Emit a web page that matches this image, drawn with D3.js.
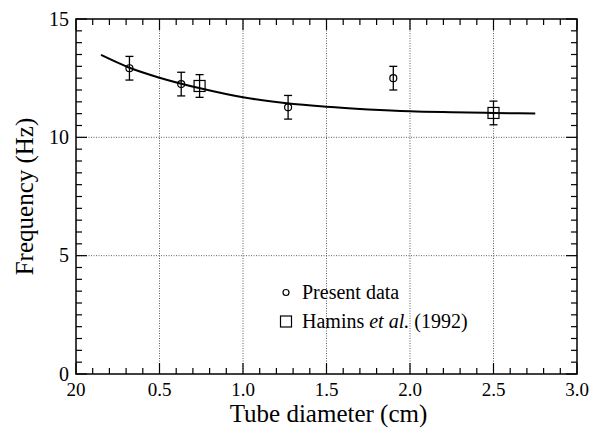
<!DOCTYPE html>
<html>
<head>
<meta charset="utf-8">
<script src="https://cdn.jsdelivr.net/npm/d3@7"></script>
<style>
  body { margin: 0; background: #fff; }
  svg { font-family: "Liberation Serif", "Times New Roman", serif; }
</style>
</head>
<body>
<div id="chart"></div>
<script>
// data
const presentDiam = [0.32, 0.63, 1.27, 1.9];
const presentFreq = [12.92, 12.25, 11.27, 12.5];
const presentErr = [0.5, 0.5, 0.5, 0.5];

const haminsDiam = [0.74, 2.5];
const haminsFreq = [12.17, 11.03];
const haminsErr = [0.48, 0.5];

const fitDiam = [0.15, 0.32, 0.5, 0.75, 1.0, 1.25, 1.5, 1.75, 2.0, 2.25, 2.5, 2.75];
const fitFreq = [13.48, 12.94, 12.52, 12.06, 11.69, 11.45, 11.29, 11.18, 11.1, 11.06, 11.03, 11.01];

const xTicks = [0, 0.5, 1.0, 1.5, 2.0, 2.5, 3.0];
const xTickLabels = ["20", "0.5", "1.0", "1.5", "2.0", "2.5", "3.0"];
const yTicks = [0, 5, 10, 15];

const width = 596, height = 439;
const margin = { top: 19, right: 19, bottom: 65, left: 76 };

const svg = d3.select("#chart").append("svg")
  .attr("width", width)
  .attr("height", height);

const x = d3.scaleLinear().domain([0, 3]).range([margin.left, width - margin.right]);
const y = d3.scaleLinear().domain([0, 15]).range([height - margin.bottom, margin.top]);

const x0 = x(0), x1 = x(3), y0 = y(0), y1 = y(15);

// dotted grid
const grid = svg.append("g")
  .attr("stroke", "#333")
  .attr("stroke-width", 0.8)
  .attr("stroke-dasharray", "1,1.5");
grid.selectAll(".gx").data([0.5, 1.0, 1.5, 2.0, 2.5]).enter().append("line")
  .attr("x1", d => x(d)).attr("x2", d => x(d))
  .attr("y1", y0).attr("y2", y1);
grid.selectAll(".gy").data([5, 10]).enter().append("line")
  .attr("x1", x0).attr("x2", x1)
  .attr("y1", d => y(d)).attr("y2", d => y(d));

// ticks on all four sides, pointing inward
const xMinor = d3.range(0, 3.0001, 0.1).map(d => +d.toFixed(1));
const yMinor = d3.range(0, 15.0001, 0.5).map(d => +d.toFixed(1));
const isMajorX = d => Math.abs(d * 2 - Math.round(d * 2)) < 1e-6;
const isMajorY = d => Math.abs(d / 5 - Math.round(d / 5)) < 1e-6;

const ticks = svg.append("g").attr("stroke", "#000").attr("stroke-width", 1.2);
ticks.selectAll(".tb").data(xMinor).enter().append("line")
  .attr("x1", d => x(d)).attr("x2", d => x(d))
  .attr("y1", y0).attr("y2", d => y0 - (isMajorX(d) ? 11 : 6));
ticks.selectAll(".tt").data(xMinor).enter().append("line")
  .attr("x1", d => x(d)).attr("x2", d => x(d))
  .attr("y1", y1).attr("y2", d => y1 + (isMajorX(d) ? 11 : 6));
ticks.selectAll(".tl").data(yMinor).enter().append("line")
  .attr("y1", d => y(d)).attr("y2", d => y(d))
  .attr("x1", x0).attr("x2", d => x0 + (isMajorY(d) ? 11 : 6));
ticks.selectAll(".tr").data(yMinor).enter().append("line")
  .attr("y1", d => y(d)).attr("y2", d => y(d))
  .attr("x1", x1).attr("x2", d => x1 - (isMajorY(d) ? 11 : 6));

// frame
svg.append("rect")
  .attr("x", x0).attr("y", y1)
  .attr("width", x1 - x0).attr("height", y0 - y1)
  .attr("fill", "none").attr("stroke", "#000").attr("stroke-width", 1.5);

// tick labels
svg.append("g").selectAll("text").data(xTicks).enter().append("text")
  .attr("x", d => x(d))
  .attr("y", y0 + 21.5)
  .attr("text-anchor", "middle")
  .style("font-size", "19px")
  .text((d, i) => xTickLabels[i]);

svg.append("g").selectAll("text").data(yTicks).enter().append("text")
  .attr("x", x0 - 7)
  .attr("y", d => y(d))
  .attr("dy", "0.33em")
  .attr("text-anchor", "end")
  .style("font-size", "20px")
  .text(d => d);

// axis titles
svg.append("text")
  .attr("x", (x0 + x1) / 2 + 2)
  .attr("y", 422)
  .attr("text-anchor", "middle")
  .style("font-size", "25px")
  .text("Tube diameter (cm)");

svg.append("text")
  .attr("transform", `translate(33,${(y0 + y1) / 2}) rotate(-90)`)
  .attr("text-anchor", "middle")
  .style("font-size", "25px")
  .text("Frequency (Hz)");

// fitted curve
const fit = fitDiam.map((d, i) => ({ d, f: fitFreq[i] }));
svg.append("path")
  .datum(fit)
  .attr("fill", "none")
  .attr("stroke", "#000")
  .attr("stroke-width", 2)
  .attr("d", d3.line().x(p => x(p.d)).y(p => y(p.f)).curve(d3.curveMonotoneX));

// error bars
function errorBars(diam, freq, err) {
  const g = svg.append("g").attr("stroke", "#000").attr("stroke-width", 1.3);
  diam.forEach((d, i) => {
    const cx = x(d);
    g.append("line").attr("x1", cx).attr("x2", cx)
      .attr("y1", y(freq[i] - err[i])).attr("y2", y(freq[i] + err[i]));
    [freq[i] - err[i], freq[i] + err[i]].forEach(v => {
      g.append("line").attr("x1", cx - 4).attr("x2", cx + 4)
        .attr("y1", y(v)).attr("y2", y(v));
    });
  });
}
errorBars(presentDiam, presentFreq, presentErr);
errorBars(haminsDiam, haminsFreq, haminsErr);

// markers
svg.append("g").selectAll("circle").data(presentDiam).enter().append("circle")
  .attr("cx", d => x(d))
  .attr("cy", (d, i) => y(presentFreq[i]))
  .attr("r", 3.5)
  .attr("fill", "none")
  .attr("stroke", "#000")
  .attr("stroke-width", 1.2);

svg.append("g").selectAll("rect").data(haminsDiam).enter().append("rect")
  .attr("x", d => x(d) - 5.5)
  .attr("y", (d, i) => y(haminsFreq[i]) - 5.5)
  .attr("width", 11).attr("height", 11)
  .attr("fill", "none")
  .attr("stroke", "#000")
  .attr("stroke-width", 1.2);

// legend
const legend = svg.append("g").style("font-size", "20px");
legend.append("circle")
  .attr("cx", 286).attr("cy", 292.5).attr("r", 3)
  .attr("fill", "none").attr("stroke", "#000").attr("stroke-width", 1.2);
legend.append("text").attr("x", 302).attr("y", 298.5).text("Present data");

legend.append("rect")
  .attr("x", 280.5).attr("y", 316).attr("width", 11).attr("height", 11)
  .attr("fill", "none").attr("stroke", "#000").attr("stroke-width", 1.2);
const hText = legend.append("text").attr("x", 302).attr("y", 328);
hText.append("tspan").text("Hamins ");
hText.append("tspan").style("font-style", "italic").text("et al.");
hText.append("tspan").text(" (1992)");
</script>
</body>
</html>
